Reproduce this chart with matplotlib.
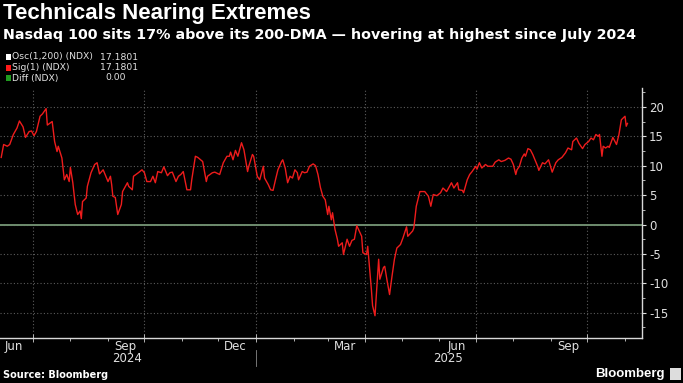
import matplotlib
matplotlib.use("Agg")
import matplotlib.pyplot as plt
import matplotlib.dates as mdates
from matplotlib.ticker import MultipleLocator, NullFormatter
from matplotlib.patches import Rectangle
import pandas as pd

plt.rcParams['axes.unicode_minus'] = False

# Osc(1,200) (NDX): % distance of Nasdaq 100 from its 200-DMA
dates = [
    "2024-06-05", "2024-06-07", "2024-06-10", "2024-06-12", "2024-06-15", "2024-06-18", "2024-06-20",
    "2024-06-23", "2024-06-25", "2024-06-28", "2024-06-30", "2024-07-02", "2024-07-04", "2024-07-07",
    "2024-07-09", "2024-07-12", "2024-07-13", "2024-07-17", "2024-07-19", "2024-07-21", "2024-07-22",
    "2024-07-25", "2024-07-27", "2024-07-29", "2024-07-31", "2024-08-01", "2024-08-03", "2024-08-05",
    "2024-08-07", "2024-08-09", "2024-08-10", "2024-08-11", "2024-08-14", "2024-08-15", "2024-08-18",
    "2024-08-21", "2024-08-23", "2024-08-25", "2024-08-28", "2024-08-29", "2024-09-01", "2024-09-03",
    "2024-09-04", "2024-09-05", "2024-09-07", "2024-09-09", "2024-09-12", "2024-09-13", "2024-09-17",
    "2024-09-18", "2024-09-21", "2024-09-22", "2024-09-26", "2024-09-29", "2024-10-01", "2024-10-03",
    "2024-10-06", "2024-10-08", "2024-10-10", "2024-10-12", "2024-10-15", "2024-10-17", "2024-10-20",
    "2024-10-22", "2024-10-24", "2024-10-27", "2024-10-29", "2024-10-31", "2024-11-02", "2024-11-05",
    "2024-11-08", "2024-11-09", "2024-11-12", "2024-11-14", "2024-11-18", "2024-11-21", "2024-11-22",
    "2024-11-26", "2024-11-28", "2024-12-02", "2024-12-05", "2024-12-08", "2024-12-10", "2024-12-11",
    "2024-12-13", "2024-12-15", "2024-12-17", "2024-12-20", "2024-12-22", "2024-12-25", "2024-12-26",
    "2024-12-29", "2024-12-30", "2025-01-02", "2025-01-04", "2025-01-07", "2025-01-08", "2025-01-11",
    "2025-01-13", "2025-01-15", "2025-01-17", "2025-01-19", "2025-01-22", "2025-01-23", "2025-01-25",
    "2025-01-27", "2025-01-29", "2025-01-31", "2025-02-02", "2025-02-04", "2025-02-05", "2025-02-08",
    "2025-02-10", "2025-02-12", "2025-02-14", "2025-02-17", "2025-02-19", "2025-02-21", "2025-02-23",
    "2025-02-25", "2025-02-27", "2025-03-01", "2025-03-02", "2025-03-04", "2025-03-05", "2025-03-07",
    "2025-03-09", "2025-03-10", "2025-03-13", "2025-03-14", "2025-03-17", "2025-03-19", "2025-03-21",
    "2025-03-23", "2025-03-25", "2025-03-29", "2025-03-30", "2025-04-02", "2025-04-03", "2025-04-06",
    "2025-04-07", "2025-04-09", "2025-04-11", "2025-04-12", "2025-04-13", "2025-04-16", "2025-04-17",
    "2025-04-19", "2025-04-21", "2025-04-23", "2025-04-25", "2025-04-27", "2025-04-30", "2025-05-02",
    "2025-05-05", "2025-05-06", "2025-05-10", "2025-05-11", "2025-05-13", "2025-05-15", "2025-05-16",
    "2025-05-18", "2025-05-20", "2025-05-23", "2025-05-25", "2025-05-27", "2025-05-30", "2025-06-02",
    "2025-06-04", "2025-06-07", "2025-06-11", "2025-06-13", "2025-06-16", "2025-06-17", "2025-06-20",
    "2025-06-21", "2025-06-24", "2025-06-26", "2025-06-28", "2025-07-01", "2025-07-02", "2025-07-04",
    "2025-07-06", "2025-07-09", "2025-07-11", "2025-07-15", "2025-07-17", "2025-07-20", "2025-07-22",
    "2025-07-25", "2025-07-28", "2025-07-30", "2025-08-01", "2025-08-03", "2025-08-04", "2025-08-06",
    "2025-08-08", "2025-08-10", "2025-08-11", "2025-08-13", "2025-08-15", "2025-08-17", "2025-08-21",
    "2025-08-22", "2025-08-25", "2025-08-27", "2025-08-30", "2025-09-02", "2025-09-05", "2025-09-07",
    "2025-09-10", "2025-09-13", "2025-09-15", "2025-09-18", "2025-09-19", "2025-09-22", "2025-09-24",
    "2025-09-27", "2025-09-29", "2025-10-02", "2025-10-04", "2025-10-06", "2025-10-08", "2025-10-10",
    "2025-10-11", "2025-10-13", "2025-10-14", "2025-10-16", "2025-10-18", "2025-10-19", "2025-10-22",
    "2025-10-23", "2025-10-25", "2025-10-27", "2025-10-29", "2025-11-01", "2025-11-02", "2025-11-03",
]
osc = [
    11.4, 13.6, 13.3, 13.6, 15.3, 16.4, 17.6,
    16.6, 14.8, 15.8, 15.9, 15.1, 15.8, 18.4,
    18.8, 19.7, 16.9, 17.5, 14.1, 12.4, 13.3,
    11.3, 7.6, 8.5, 7.3, 9.7, 7.1, 3.4,
    1.7, 2.3, 1.0, 3.9, 4.5, 6.5, 8.8,
    10.2, 10.5, 8.6, 9.3, 8.8, 7.3, 8.2,
    6.8, 4.8, 4.6, 1.7, 3.4, 5.6, 7.1,
    6.5, 5.9, 8.2, 8.8, 9.3, 8.8, 7.3,
    7.3, 8.2, 7.1, 9.0, 8.8, 9.8, 8.3,
    8.8, 8.9, 7.3, 8.2, 8.5, 9.0, 5.9,
    5.9, 7.6, 11.6, 11.4, 10.7, 7.3, 8.2,
    8.8, 8.9, 8.5, 10.5, 11.6, 11.6, 12.3,
    11.0, 12.6, 11.6, 13.9, 12.7, 9.0, 9.9,
    11.9, 11.6, 8.2, 7.6, 9.9, 7.9, 6.8,
    5.9, 5.8, 7.6, 9.3, 10.7, 11.0, 9.6,
    7.1, 8.2, 7.9, 9.3, 8.8, 7.6, 9.0,
    8.8, 8.9, 9.9, 10.3, 10.0, 8.5, 6.3,
    4.8, 4.2, 1.7, 3.1, 0.8, 2.0, -0.8,
    -2.5, -3.7, -3.1, -5.1, -2.5, -3.7, -2.7,
    -2.5, -0.2, -2.0, -4.8, -5.1, -3.7, -11.0,
    -13.8, -15.5, -9.0, -5.9, -9.3, -7.3, -7.1,
    -9.6, -11.9, -8.8, -5.9, -4.0, -3.4, -2.3,
    -0.4, -2.0, -1.1, -0.6, 3.1, 4.8, 5.6,
    5.6, 5.6, 4.8, 3.1, 5.1, 4.9, 5.4,
    6.2, 5.6, 7.1, 6.2, 7.1, 5.9, 5.8,
    5.4, 7.6, 8.5, 9.0, 9.9, 9.4, 10.5,
    9.6, 10.2, 9.9, 9.9, 10.6, 11.0, 10.7,
    10.9, 11.3, 11.1, 10.2, 8.5, 9.3, 9.9,
    11.3, 12.0, 11.6, 12.9, 12.7, 11.9, 9.9,
    9.2, 10.5, 10.3, 11.0, 8.9, 10.5, 11.0,
    11.4, 12.2, 13.0, 12.7, 14.1, 14.7, 13.8,
    12.9, 13.6, 14.1, 14.7, 14.4, 15.3, 15.0,
    15.3, 11.6, 13.3, 13.0, 13.3, 13.1, 14.8,
    14.4, 13.6, 15.3, 17.8, 18.4, 16.7, 17.18,
]

legend_names = ["Osc(1,200) (NDX)", "Sig(1) (NDX)", "Diff (NDX)"]
legend_values = ["17.1801", "17.1801", "0.00"]
legend_colors = ["#ffffff", "#ff1a1a", "#1f9a1f"]

month_labels = ["Jun", "Sep", "Dec", "Mar", "Jun", "Sep"]
month_label_dates = ["2024-06-15", "2024-09-15", "2024-12-15", "2025-03-15", "2025-06-15", "2025-09-15"]
year_labels = ["2024", "2025"]
year_label_dates = ["2024-09-17", "2025-06-08"]

W, H = 683, 383
fig = plt.figure(figsize=(W / 100, H / 100), dpi=100, facecolor="black")
ax = fig.add_axes([0, 1 - 337.5 / H, 642 / W, (337.5 - 88) / H])
ax.set_facecolor("black")

x = pd.to_datetime(dates)
ax.grid(True, which="major", color="#5c5c5c", linestyle=(0, (1, 2)), linewidth=0.8)
ax.axhline(0, color="#6e8c6e", linewidth=1.4, zorder=2)
ax.plot(x, osc, color="#ee1c1c", linewidth=1.0, zorder=3)

ax.set_xlim(pd.Timestamp("2024-06-04"), pd.Timestamp("2025-11-15"))
ax.set_ylim(-19.2, 23.2)

ax.yaxis.tick_right()
ax.yaxis.set_major_locator(MultipleLocator(5))
ax.yaxis.set_minor_locator(MultipleLocator(2.5))
ax.xaxis.set_major_locator(mdates.MonthLocator(bymonth=[1, 4, 7, 10]))
ax.xaxis.set_minor_locator(mdates.MonthLocator())
ax.xaxis.set_major_formatter(NullFormatter())

for s in ["top", "left"]:
    ax.spines[s].set_visible(False)
for s in ["bottom", "right"]:
    ax.spines[s].set_color("#d8d8d8")
    ax.spines[s].set_linewidth(1.0)

ax.tick_params(axis="y", which="major", colors="#e0e0e0", labelsize=8.5, length=3, width=0.8, pad=2)
ax.tick_params(axis="y", which="minor", colors="#d0d0d0", length=2, width=0.6)
ax.tick_params(axis="x", which="major", direction="inout", length=6, width=0.6, colors="#d0d0d0")
ax.tick_params(axis="x", which="minor", length=2, width=0.6, colors="#d0d0d0")

tr = ax.get_xaxis_transform()
for lab, d in zip(month_labels, month_label_dates):
    ax.text(pd.Timestamp(d), -0.036, lab, transform=tr, ha="center", va="center",
            color="#e0e0e0", fontsize=8.5)
for lab, d in zip(year_labels, year_label_dates):
    ax.text(pd.Timestamp(d), -0.086, lab, transform=tr, ha="center", va="center",
            color="#e0e0e0", fontsize=8.5)
ax.axvline(pd.Timestamp("2025-01-01"), ymin=-0.05, ymax=-0.115, color="#888888",
           linewidth=0.6, clip_on=False)

# header
fig.text(3 / W, 1 - 13 / H, "Technicals Nearing Extremes", color="white", fontsize=16,
         fontweight="bold", family="Liberation Sans", va="center", ha="left")
fig.text(3 / W, 1 - 35 / H, "Nasdaq 100 sits 17% above its 200-DMA \u2014 hovering at highest since July 2024",
         color="white", fontsize=10.3, fontweight="bold", family="DejaVu Sans", va="center", ha="left")

rows_y = [57, 67.5, 78]
value_right = [138, 138, 126]
for name, val, col, yy, vx in zip(legend_names, legend_values, legend_colors, rows_y, value_right):
    fig.patches.append(Rectangle((6 / W, 1 - (yy + 3) / H), 5 / W, 6 / H, transform=fig.transFigure,
                                 facecolor=col, edgecolor="none"))
    fig.text(12 / W, 1 - yy / H, name, color="#e0e0e0", fontsize=6.7, va="center", ha="left")
    fig.text(vx / W, 1 - yy / H, val, color="#e0e0e0", fontsize=6.7, va="center", ha="right")

# footer
fig.text(3 / W, 1 - 375 / H, "Source: Bloomberg", color="white", fontsize=7, fontweight="bold",
         va="center", ha="left")
fig.text(665 / W, 1 - 374 / H, "Bloomberg", color="white", fontsize=9.5, fontweight="bold",
         family="Liberation Sans", va="center", ha="right")
fig.patches.append(Rectangle((670 / W, 1 - 380 / H), 11 / W, 12 / H, transform=fig.transFigure,
                             facecolor="#dddddd", edgecolor="none"))

fig.savefig("out.png", dpi=100, facecolor="black")
